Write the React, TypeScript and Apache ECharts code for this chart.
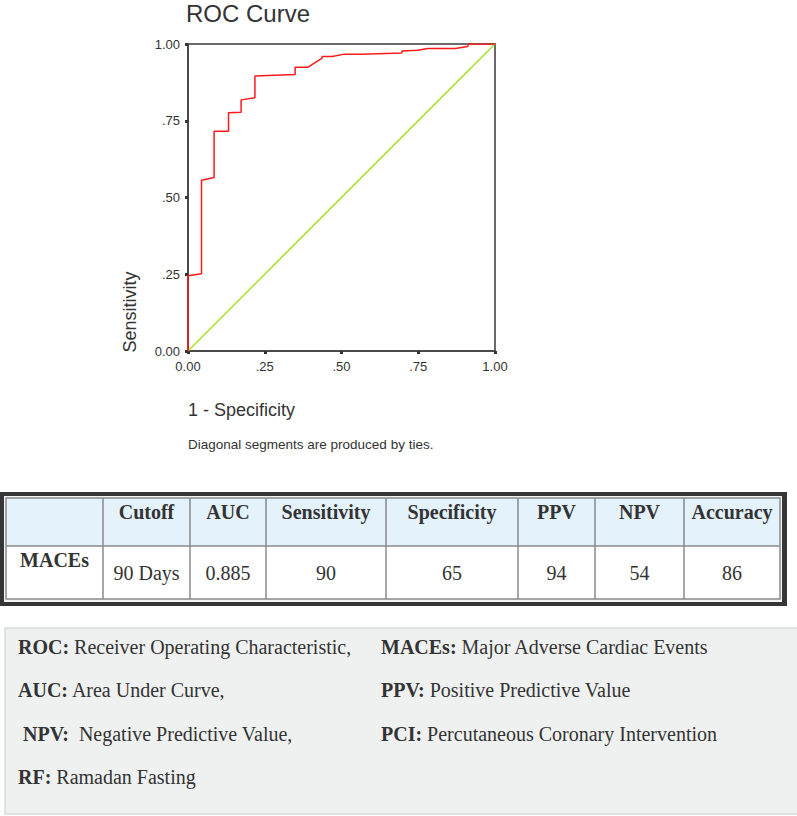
import React, { useEffect, useRef } from "react";
import * as echarts from "echarts";

// ROC curve data (1 - Specificity, Sensitivity)
const fpr = [0, 0, 0.044, 0.044, 0.085, 0.085, 0.132, 0.132, 0.173, 0.173, 0.218, 0.218, 0.349, 0.349, 0.39, 0.437, 0.437, 0.47, 0.509, 0.565, 0.565, 0.697, 0.697, 0.748, 0.781, 0.871, 0.911, 0.914, 1.0];
const tpr = [0, 0.245, 0.252, 0.556, 0.565, 0.716, 0.716, 0.776, 0.778, 0.818, 0.825, 0.896, 0.901, 0.924, 0.924, 0.954, 0.959, 0.959, 0.967, 0.967, 0.969, 0.971, 0.977, 0.98, 0.985, 0.985, 0.992, 1.0, 1.0];
const refX = [0, 1];
const refY = [0, 1];
const tickValues = [0, 0.25, 0.5, 0.75, 1];
const tickLabels = ["0.00", ".25", ".50", ".75", "1.00"];

// Table
const tableHeaders = ["", "Cutoff", "AUC", "Sensitivity", "Specificity", "PPV", "NPV", "Accuracy"];
const tableRow = ["MACEs", "90 Days", "0.885", "90", "65", "94", "54", "86"];

// Abbreviations
const abbrLeft = [
  ["ROC:", " Receiver Operating Characteristic,"],
  ["AUC:", " Area Under Curve,"],
  ["NPV:", "  Negative Predictive Value,"],
  ["RF:", " Ramadan Fasting"],
];
const abbrRight = [
  ["MACEs:", " Major Adverse Cardiac Events"],
  ["PPV:", " Positive Predictive Value"],
  ["PCI:", " Percutaneous Coronary Intervention"],
];

const SANS = "'Liberation Sans', Arial, sans-serif";
const SERIF = "'Liberation Serif', 'Times New Roman', serif";

export default function App() {
  const ref = useRef<HTMLDivElement>(null);
  useEffect(() => {
    if (!ref.current) return;
    const chart = echarts.init(ref.current, undefined, { renderer: "svg" });

    const fmt = (v: number) => {
      const i = tickValues.findIndex((t) => Math.abs(t - v) < 1e-6);
      return i >= 0 ? tickLabels[i] : "";
    };

    // Table graphics
    const colEdges = [6, 103, 190, 266, 386, 518, 595, 684, 780];
    const tTop = 498, tMid = 546, tBot = 599;
    const graphics: any[] = [];
    graphics.push({ type: "rect", shape: { x: 0, y: 492, width: 787, height: 114 }, style: { fill: "#363636" }, silent: true });
    graphics.push({ type: "rect", shape: { x: 4, y: 496, width: 778, height: 106 }, style: { fill: "#f4f4f4" }, silent: true });
    graphics.push({ type: "rect", shape: { x: 6, y: tTop, width: 774, height: tMid - tTop }, style: { fill: "#e4f2fc" }, silent: true });
    graphics.push({ type: "rect", shape: { x: 6, y: tMid, width: 774, height: tBot - tMid }, style: { fill: "#ffffff" }, silent: true });
    graphics.push({ type: "rect", shape: { x: 6, y: tTop, width: 774, height: tBot - tTop }, style: { fill: "none", stroke: "#8a8a8a", lineWidth: 1.5 }, silent: true });
    graphics.push({ type: "line", shape: { x1: 6, y1: tMid, x2: 780, y2: tMid }, style: { stroke: "#8a8a8a", lineWidth: 1.5 }, silent: true });
    for (let i = 1; i < colEdges.length - 1; i++) {
      graphics.push({ type: "line", shape: { x1: colEdges[i], y1: tTop, x2: colEdges[i], y2: tBot }, style: { stroke: "#8a8a8a", lineWidth: 1.5 }, silent: true });
    }
    tableHeaders.forEach((h, i) => {
      if (!h) return;
      graphics.push({
        type: "text", x: (colEdges[i] + colEdges[i + 1]) / 2, y: 512,
        style: { text: h, font: `bold 20px ${SERIF}`, fill: "#333", align: "center", verticalAlign: "middle" },
      });
    });
    tableRow.forEach((v, i) => {
      graphics.push({
        type: "text", x: (colEdges[i] + colEdges[i + 1]) / 2, y: i === 0 ? 560 : 573,
        style: { text: v, font: `${i === 0 ? "bold " : ""}20px ${SERIF}`, fill: "#333", align: "center", verticalAlign: "middle" },
      });
    });

    // Abbreviation box
    graphics.push({ type: "rect", shape: { x: 5, y: 628, width: 800, height: 186 }, style: { fill: "#eff1f1", stroke: "#d6dbdb", lineWidth: 1.5 }, silent: true });
    const lineYs = [647, 690, 734, 777];
    const abbrText = (pair: string[], x: number, y: number) => ({
      type: "text", x, y,
      style: {
        text: `{b|${pair[0]}}{r|${pair[1]}}`,
        verticalAlign: "middle",
        rich: {
          b: { font: `bold 20px ${SERIF}`, fill: "#333", color: "#333" },
          r: { font: `20px ${SERIF}`, fill: "#333", color: "#333" },
        },
      },
    });
    abbrLeft.forEach((p, i) => graphics.push(abbrText(p, i === 2 ? 23 : 18, lineYs[i])));
    abbrRight.forEach((p, i) => graphics.push(abbrText(p, 381, lineYs[i])));

    // Chart texts
    graphics.push({ type: "text", x: 130, y: 312, rotation: Math.PI / 2, style: { text: "Sensitivity", font: `18px ${SANS}`, fill: "#333", align: "center", verticalAlign: "middle" } });
    graphics.push({ type: "text", x: 188, y: 410, style: { text: "1 - Specificity", font: `18px ${SANS}`, fill: "#333", align: "left", verticalAlign: "middle" } });
    graphics.push({ type: "text", x: 188, y: 444, style: { text: "Diagonal segments are produced by ties.", font: `13.5px ${SANS}`, fill: "#333", align: "left", verticalAlign: "middle" } });

    const axisCommon = {
      type: "value",
      min: 0,
      max: 1,
      interval: 0.25,
      splitLine: { show: false },
      axisLine: { show: true, lineStyle: { color: "#4a4a4a", width: 2 } },
      axisTick: { show: true, length: 3, lineStyle: { color: "#333", width: 3 } },
    };

    chart.setOption({
      animation: false,
      backgroundColor: "#ffffff",
      title: {
        text: "ROC Curve", left: 186, top: 1, padding: 0,
        textStyle: { fontFamily: SANS, fontSize: 24, fontWeight: "normal", color: "#333" },
      },
      grid: { left: 188, top: 44, width: 307, height: 307, show: true, borderColor: "#6a6a6a", borderWidth: 2, backgroundColor: "transparent" },
      xAxis: { ...axisCommon, axisLabel: { formatter: fmt, fontFamily: SANS, fontSize: 13, color: "#333", margin: 9 } },
      yAxis: { ...axisCommon, axisLabel: { formatter: fmt, fontFamily: SANS, fontSize: 13, color: "#333", margin: 8 } },
      series: [
        {
          type: "line", data: refX.map((x, i) => [x, refY[i]]), symbol: "none",
          lineStyle: { color: "#a3e22c", width: 1.5 }, z: 2,
        },
        {
          type: "line", data: fpr.map((x, i) => [x, tpr[i]]), symbol: "none",
          lineStyle: { color: "#ff1a1a", width: 1.5 }, z: 3,
        },
      ],
      graphic: graphics,
    });
    return () => chart.dispose();
  }, []);
  return <div ref={ref} style={{ position: "absolute", left: 0, top: 0, width: 797, height: 816 }} />;
}
